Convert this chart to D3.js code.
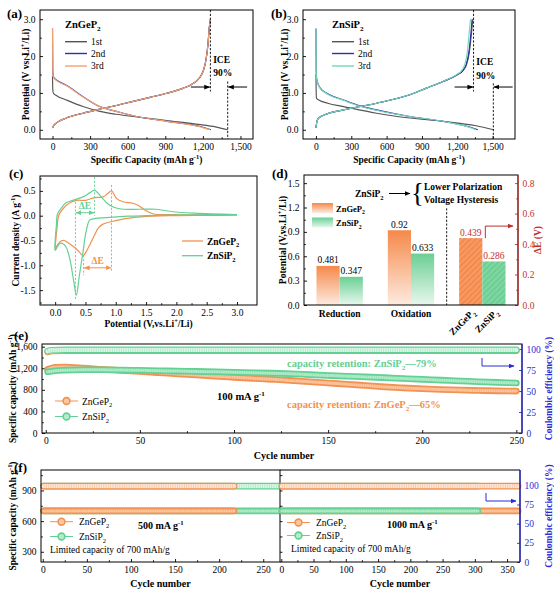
<!DOCTYPE html>
<html>
<head>
<meta charset="utf-8">
<script src="https://cdn.jsdelivr.net/npm/d3@7"></script>
<style>
  body { margin: 0; background: #fff; }
  svg { display: block; }
</style>
</head>
<body>
<svg width="554" height="591"></svg>
<script>
// ---------- data ----------
// (a) ZnGeP2 galvanostatic curves: capacity (mAh/g) vs potential (V)
const aDis1Cap = [0, 2, 6, 30, 110, 243, 377, 510, 644, 912, 1179, 1300, 1398];
const aDis1V = [1.45, 1.1, 1.0, 0.93, 0.81, 0.63, 0.5, 0.42, 0.36, 0.25, 0.14, 0.08, 0.0];
const aDis2Cap = [0, 2, 8, 40, 110, 243, 377, 510, 644, 912, 1179, 1265];
const aDis2V = [2.75, 1.6, 1.43, 1.33, 1.21, 0.9, 0.63, 0.5, 0.38, 0.23, 0.09, 0.0];
const aDis3Cap = [0, 2, 8, 40, 110, 243, 377, 510, 644, 912, 1179, 1258];
const aDis3V = [2.75, 1.58, 1.42, 1.32, 1.2, 0.89, 0.63, 0.5, 0.38, 0.23, 0.08, 0.0];
const aChCap = [0, 10, 29, 110, 243, 377, 510, 644, 778, 912, 1045, 1110, 1152, 1190, 1206, 1225, 1240, 1252, 1260];
const aChV = [0.05, 0.12, 0.18, 0.32, 0.45, 0.56, 0.66, 0.77, 0.88, 0.99, 1.13, 1.23, 1.33, 1.5, 1.63, 1.9, 2.3, 2.8, 3.0];

// (b) ZnSiP2 galvanostatic curves
const bDis1Cap = [0, 2, 5, 23, 100, 234, 515, 797, 1078, 1359, 1510];
const bDis1V = [1.5, 1.0, 0.85, 0.81, 0.72, 0.63, 0.45, 0.32, 0.23, 0.11, 0.0];
const bDis2Cap = [0, 2, 8, 37, 93, 234, 374, 515, 797, 1078, 1331, 1375];
const bDis2V = [2.75, 1.6, 1.35, 1.13, 0.99, 0.81, 0.65, 0.54, 0.36, 0.23, 0.05, 0.0];
const bDis3Cap = [0, 2, 8, 37, 93, 234, 374, 515, 797, 1078, 1320, 1360];
const bDis3V = [2.75, 1.58, 1.34, 1.12, 0.98, 0.8, 0.64, 0.53, 0.36, 0.23, 0.05, 0.0];
const bCh1Cap = [0, 8, 23, 93, 234, 515, 797, 938, 1078, 1200, 1252, 1278, 1302, 1320, 1332];
const bCh2Cap = [0, 8, 23, 93, 234, 515, 797, 938, 1078, 1198, 1250, 1274, 1298, 1315, 1326];
const bCh3Cap = [0, 8, 23, 93, 234, 515, 797, 938, 1078, 1191, 1240, 1262, 1285, 1300, 1312];
const bChV = [0.05, 0.22, 0.32, 0.43, 0.54, 0.72, 0.95, 1.13, 1.31, 1.49, 1.62, 1.76, 2.1, 2.6, 3.0];

// (c) cyclic voltammetry loops (cathodic 3.0 -> 0, then anodic 0 -> 3.0)
const cvGeV = [3.0, 2.5, 2.0, 1.6, 1.28, 1.0, 0.79, 0.71, 0.65, 0.57, 0.51, 0.47, 0.43, 0.4, 0.35, 0.29, 0.22, 0.15, 0.1, 0.05, 0.02, 0.0,
  0.01, 0.03, 0.06, 0.13, 0.24, 0.35, 0.51, 0.63, 0.79, 0.87, 0.93, 1.01, 1.12, 1.28, 1.38, 1.45, 1.61, 1.94, 2.5, 3.0];
const cvGeI = [0.01, 0.005, 0.0, -0.01, -0.04, -0.1, -0.17, -0.25, -0.39, -0.59, -0.73, -0.8, -0.78, -0.73, -0.67, -0.61, -0.55, -0.5, -0.51, -0.57, -0.63, -0.68,
  -0.5, -0.26, 0.01, 0.14, 0.26, 0.31, 0.31, 0.36, 0.38, 0.45, 0.5, 0.35, 0.28, 0.25, 0.2, 0.14, 0.04, 0.02, 0.015, 0.01];
const cvSiV = [3.0, 2.0, 1.5, 1.2, 0.84, 0.65, 0.57, 0.51, 0.46, 0.4, 0.35, 0.31, 0.29, 0.24, 0.18, 0.12, 0.08, 0.04, 0.0,
  0.02, 0.04, 0.1, 0.18, 0.29, 0.46, 0.57, 0.65, 0.76, 0.9, 1.06, 1.39, 1.67, 1.94, 2.3, 3.0];
const cvSiI = [0.02, 0.01, 0.0, -0.01, -0.04, -0.06, -0.09, -0.32, -0.73, -1.2, -1.6, -1.35, -1.2, -0.86, -0.63, -0.56, -0.56, -0.62, -0.7,
  -0.2, 0.04, 0.15, 0.26, 0.31, 0.38, 0.46, 0.51, 0.38, 0.21, 0.14, 0.13, 0.13, 0.08, 0.05, 0.02];

// (d) peak potentials and polarization
const dGroups = ["Reduction", "Oxidation", "ΔE"];
const dSeries = ["ZnGeP2", "ZnSiP2"];
const dGe = [0.481, 0.92];
const dSi = [0.347, 0.633];
const dDelta = [0.439, 0.286];

// (e) cycling at 100 mA/g
const eCyc = [1, 5, 10, 20, 30, 40, 50, 60, 70, 80, 90, 100, 110, 120, 130, 140, 150, 160, 170, 180, 190, 200, 210, 220, 230, 240, 250];
const eGeCap = [1180, 1220, 1222, 1205, 1180, 1160, 1140, 1118, 1096, 1074, 1052, 1032, 1013, 995, 975, 950, 926, 905, 880, 855, 836, 820, 807, 797, 788, 781, 777];
const eSiCap = [1135, 1155, 1165, 1172, 1172, 1168, 1162, 1155, 1148, 1142, 1134, 1126, 1118, 1110, 1098, 1082, 1066, 1052, 1040, 1026, 1010, 995, 980, 965, 950, 938, 926];
const eCeCyc = [1, 3, 10, 25, 50, 75, 100, 125, 150, 175, 200, 225, 250];
const eGeCE = [96.5, 97.6, 98, 98, 98, 98, 98, 98, 98, 98, 98, 98, 98];
const eSiCE = [97.5, 98.6, 99, 99, 99, 99, 99, 99, 99, 99, 99, 99, 99];

// (f) limited-capacity cycling (700 mAh/g)
const f5GeCyc = [1, 20, 40, 60, 80, 100, 120, 140, 160, 180, 200, 217];
const f5GeCap = [700, 700, 700, 700, 700, 700, 700, 700, 700, 700, 700, 700];
const f5GeCE = [99, 99, 99, 99, 99, 99, 99, 99, 99, 99, 99, 99];
const f5SiCyc = [1, 30, 60, 90, 120, 150, 180, 210, 240, 268];
const f5SiCap = [700, 700, 700, 700, 700, 700, 700, 700, 700, 700];
const f5SiCE = [99, 99, 99, 99, 99, 99, 99, 99, 99, 99];
const f10GeCyc = [1, 40, 80, 120, 160, 200, 240, 280, 320, 367];
const f10GeCap = [700, 700, 700, 700, 700, 700, 700, 700, 700, 700];
const f10GeCE = [99, 99, 99, 99, 99, 99, 99, 99, 99, 99];
const f10SiCyc = [1, 40, 80, 120, 160, 200, 240, 280, 305];
const f10SiCap = [700, 700, 700, 700, 700, 700, 700, 700, 700];
const f10SiCE = [99, 99, 99, 99, 99, 99, 99, 99, 99];

// ---------- style ----------
const FONT = "'Liberation Serif','Times New Roman',serif";
const cGray = "#555555", cBlue = "#2f2fb0", cOrA = "#f3a46b", cGrB = "#74d9b4";
const cOr = "#f39150", cOrIn = "#fbc7a2", cOrCE = "#fde6d6";
const cGr = "#63d094", cGrIn = "#b4ebcb", cGrCE = "#dcf5e6";
const cRed = "#c22f2a", cAx = "#2b2bd6";

const svg = d3.select("svg");
const defs = svg.append("defs");

// text with ^{sup} and _{sub} parts
const rich = (t, s, fs) => {
  let shift = 0;
  s.split(/(\^\{[^}]*\}|_\{[^}]*\})/).filter((p) => p).forEach((p) => {
    let target = 0, txt = p, small = false;
    if (p[0] === "^") { target = -0.4 * fs; txt = p.slice(2, -1); small = true; }
    else if (p[0] === "_") { target = 0.3 * fs; txt = p.slice(2, -1); small = true; }
    const sp = t.append("tspan").attr("dy", target - shift).text(txt);
    if (small) sp.attr("font-size", fs * 0.68);
    shift = target;
  });
};
const text = (x, y, s, o = {}) => {
  const fs = o.size || 9.5;
  const t = svg.append("text").attr("x", x).attr("y", y)
    .attr("font-family", FONT).attr("font-size", fs)
    .attr("font-weight", o.bold ? "bold" : "normal")
    .attr("fill", o.color || "#000")
    .attr("text-anchor", o.anchor || "start");
  if (o.rotate) t.attr("transform", `rotate(${o.rotate},${x},${y})`);
  rich(t, s, fs);
  return t;
};

const marker = (id, color) => defs.append("marker").attr("id", id)
  .attr("viewBox", "0 0 10 10").attr("refX", 9).attr("refY", 5)
  .attr("markerWidth", 6).attr("markerHeight", 6).attr("markerUnits", "userSpaceOnUse")
  .attr("orient", "auto-start-reverse")
  .append("path").attr("d", "M0,1 L10,5 L0,9 Z").attr("fill", color);
marker("ahK", "#000"); marker("ahR", cRed); marker("ahB", cAx); marker("ahO", cOr); marker("ahG", cGr);

const axis = (g, gen, tx, ty, color = "#000") => {
  const a = g.append("g").attr("transform", `translate(${tx},${ty})`).call(gen);
  a.select(".domain").remove();
  a.selectAll("text").attr("font-family", FONT).attr("font-size", 9.5).attr("fill", color);
  a.selectAll("line").attr("stroke", color).attr("stroke-width", 0.9);
  return a;
};
// inward major/minor ticks on bottom and left
const axes = (g, x, y, w, h, xMaj, xMin, yMaj, yMin, xFmt = null, yFmt = null) => {
  axis(g, d3.axisBottom(x).tickValues(xMaj).tickSize(-3).tickPadding(4.5).tickFormat(xFmt), 0, h);
  axis(g, d3.axisBottom(x).tickValues(xMin).tickSize(-1.8).tickFormat(""), 0, h);
  axis(g, d3.axisLeft(y).tickValues(yMaj).tickSize(-3).tickPadding(4.5).tickFormat(yFmt), 0, 0);
  axis(g, d3.axisLeft(y).tickValues(yMin).tickSize(-1.8).tickFormat(""), 0, 0);
};
const frame = (g, w, h) => g.append("rect").attr("width", w).attr("height", h)
  .attr("fill", "none").attr("stroke", "#000").attr("stroke-width", 1);

const curve = (g, x, y, xs, ys, color, cv = d3.curveMonotoneX, w = 1.15) =>
  g.append("path")
    .attr("d", d3.line().x((p) => x(p[0])).y((p) => y(p[1])).curve(cv)(d3.zip(xs, ys)))
    .attr("fill", "none").attr("stroke", color).attr("stroke-width", w);
const dash = (g, x1, y1, x2, y2, color = "#000") => g.append("line")
  .attr("x1", x1).attr("y1", y1).attr("x2", x2).attr("y2", y2)
  .attr("stroke", color).attr("stroke-width", 0.9).attr("stroke-dasharray", "2.2,1.6");
const arrow = (g, pts, color, mk, both = false) => {
  const p = g.append("path").attr("d", d3.line()(pts)).attr("fill", "none")
    .attr("stroke", color).attr("stroke-width", 1).attr("marker-end", `url(#${mk})`);
  if (both) p.attr("marker-start", `url(#${mk})`);
  return p;
};
// dense circle markers rendered as a band
const band = (g, x, y, xs, ys, color, inner, open) => {
  const d = d3.line().x((p) => x(p[0])).y((p) => y(p[1])).curve(d3.curveMonotoneX)(d3.zip(xs, ys));
  const w = open ? 4.4 : 3.0;
  g.append("path").attr("d", d).attr("fill", "none").attr("stroke", color).attr("stroke-width", 6.6).attr("stroke-linecap", "round");
  g.append("path").attr("d", d).attr("fill", "none").attr("stroke", inner).attr("stroke-width", w).attr("stroke-linecap", "round");
  g.append("path").attr("d", d).attr("fill", "none").attr("stroke", color).attr("stroke-opacity", 0.4)
    .attr("stroke-width", w).attr("stroke-dasharray", "0.7,1.6");
};
const legLine = (x1, x2, y, color, w = 1.2) => svg.append("line")
  .attr("x1", x1).attr("x2", x2).attr("y1", y).attr("y2", y).attr("stroke", color).attr("stroke-width", w);
const legDot = (x1, x2, y, color, inner) => {
  legLine(x1, x2, y, color, 1);
  svg.append("circle").attr("cx", (x1 + x2) / 2).attr("cy", y).attr("r", 3.4)
    .attr("fill", inner).attr("stroke", color).attr("stroke-width", 1.6);
};

// ---------- (a) ----------
const gA = svg.append("g").attr("transform", "translate(40,10)");
const xA = d3.scaleLinear().domain([-100, 1600]).range([0, 213]);
const yA = d3.scaleLinear().domain([-0.25, 3.25]).range([129, 0]);
axes(gA, xA, yA, 213, 129, [0, 300, 600, 900, 1200, 1500], [150, 450, 750, 1050, 1350], [0, 1, 2, 3], [0.5, 1.5, 2.5]);
curve(gA, xA, yA, aDis1Cap, aDis1V, cGray);
curve(gA, xA, yA, aChCap, aChV, cGray);
curve(gA, xA, yA, aDis2Cap, aDis2V, cBlue);
curve(gA, xA, yA, aChCap, aChV, cBlue);
curve(gA, xA, yA, aDis3Cap, aDis3V, cOrA);
curve(gA, xA, yA, aChCap, aChV, cOrA);
dash(gA, xA(1260), 0, xA(1260), yA(1.04));
dash(gA, xA(1398), yA(1.31), xA(1398), 129);
arrow(gA, [[xA(1104), yA(1.16)], [xA(1254), yA(1.16)]], "#000", "ahK");
arrow(gA, [[xA(1553), yA(1.16)], [xA(1404), yA(1.16)]], "#000", "ahK");
frame(gA, 213, 129);
text(40 + xA(1282), 10 + yA(1.92) + 3.5, "ICE", { bold: true });
text(40 + xA(1282), 10 + yA(1.56) + 3.5, "90%", { bold: true });
text(65, 27.5, "ZnGeP_{2}", { bold: true, size: 10.5 });
[["1st", cGray], ["2nd", cBlue], ["3rd", cOrA]].forEach(([n, c], i) => {
  const y = [41.7, 53.5, 66][i];
  legLine(65, 87, y, c, 1.4);
  text(91, y + 3.3, n);
});
text(28.5, 74.5, "Potential (V vs. Li^{+}/Li)", { bold: true, anchor: "middle", rotate: -90 });
text(146.5, 162.5, "Specific Capacity (mAh g^{-1})", { bold: true, anchor: "middle" });
text(7, 18, "(a)", { bold: true, size: 13 });

// ---------- (b) ----------
const gB = svg.append("g").attr("transform", "translate(303,10)");
const xB = d3.scaleLinear().domain([-110, 1690]).range([0, 212]);
const yB = d3.scaleLinear().domain([-0.25, 3.25]).range([129, 0]);
axes(gB, xB, yB, 212, 129, [0, 300, 600, 900, 1200, 1500], [150, 450, 750, 1050, 1350], [0, 1, 2, 3], [0.5, 1.5, 2.5]);
curve(gB, xB, yB, bDis1Cap, bDis1V, cGray);
curve(gB, xB, yB, bCh1Cap, bChV, cGray);
curve(gB, xB, yB, bDis2Cap, bDis2V, cBlue);
curve(gB, xB, yB, bCh2Cap, bChV, cBlue);
curve(gB, xB, yB, bDis3Cap, bDis3V, cGrB);
curve(gB, xB, yB, bCh3Cap, bChV, cGrB);
dash(gB, xB(1338), 0, xB(1338), yB(1.04));
dash(gB, xB(1506), yB(1.26), xB(1506), 129);
arrow(gB, [[xB(1177), yB(1.16)], [xB(1332), yB(1.16)]], "#000", "ahK");
arrow(gB, [[xB(1670), yB(1.16)], [xB(1512), yB(1.16)]], "#000", "ahK");
frame(gB, 212, 129);
text(303 + xB(1362), 10 + yB(1.85) + 3.5, "ICE", { bold: true });
text(303 + xB(1362), 10 + yB(1.48) + 3.5, "90%", { bold: true });
text(332, 27.5, "ZnSiP_{2}", { bold: true, size: 10.5 });
[["1st", cGray], ["2nd", cBlue], ["3rd", cGrB]].forEach(([n, c], i) => {
  const y = [41.7, 53.5, 66][i];
  legLine(332, 354, y, c, 1.4);
  text(358, y + 3.3, n);
});
text(287.5, 74.5, "Potential (V vs. Li^{+}/Li)", { bold: true, anchor: "middle", rotate: -90 });
text(409, 162.5, "Specific Capacity (mAh g^{-1})", { bold: true, anchor: "middle" });
text(271, 18, "(b)", { bold: true, size: 13 });

// ---------- (c) ----------
const gC = svg.append("g").attr("transform", "translate(40,176)");
const xC = d3.scaleLinear().domain([-0.25, 3.33]).range([0, 217]);
const yC = d3.scaleLinear().domain([-1.8, 0.8]).range([129, 0]);
const f1 = (d) => d.toFixed(1);
axes(gC, xC, yC, 217, 129, [0, 0.5, 1, 1.5, 2, 2.5, 3], [0.25, 0.75, 1.25, 1.75, 2.25, 2.75],
  [-1.5, -1, -0.5, 0, 0.5], [-1.75, -1.25, -0.75, -0.25, 0.25, 0.75], f1, f1);
curve(gC, xC, yC, cvGeV, cvGeI, cOr, d3.curveCatmullRom.alpha(0.5), 1.2);
curve(gC, xC, yC, cvSiV, cvSiI, cGr, d3.curveCatmullRom.alpha(0.5), 1.2);
dash(gC, xC(0.335), yC(0.28), xC(0.335), yC(-1.7), cGr);
dash(gC, xC(0.65), yC(0.78), xC(0.65), yC(0.0), cGr);
dash(gC, xC(0.93), yC(0.62), xC(0.93), yC(-1.12), cOr);
dash(gC, xC(0.47), yC(-0.8), xC(0.47), yC(-1.2), cOr);
arrow(gC, [[xC(0.345), yC(0.06)], [xC(0.64), yC(0.06)]], cGr, "ahG", true);
arrow(gC, [[xC(0.48), yC(-1.05)], [xC(0.92), yC(-1.05)]], cOr, "ahO", true);
frame(gC, 217, 129);
text(40 + xC(0.49), 176 + yC(0.2) + 3.5, "ΔE", { bold: true, color: cGr, anchor: "middle" });
text(40 + xC(0.7), 176 + yC(-0.9) + 3.5, "ΔE", { bold: true, color: cOr, anchor: "middle" });
legLine(182, 203, 241, cOr, 1.3);
legLine(182, 203, 255.7, cGr, 1.3);
text(207, 244.5, "ZnGeP_{2}", { bold: true });
text(207, 259.2, "ZnSiP_{2}", { bold: true });
text(18.5, 240.5, "Current density (A g^{-1})", { bold: true, anchor: "middle", rotate: -90 });
text(148.5, 326.5, "Potential (V,vs.Li^{+}/Li)", { bold: true, anchor: "middle" });
text(9, 178, "(c)", { bold: true, size: 13 });

// ---------- (d) ----------
const grad = (id, c1, c2) => {
  const lg = defs.append("linearGradient").attr("id", id).attr("x1", 0).attr("y1", 0).attr("x2", 0).attr("y2", 1);
  lg.append("stop").attr("offset", "0%").attr("stop-color", c1);
  lg.append("stop").attr("offset", "100%").attr("stop-color", c2);
};
grad("gradGe", "#f5894a", "#fdebe0");
grad("gradSi", "#6bcf94", "#e8f7ee");
const hatch = (id, c) => {
  const p = defs.append("pattern").attr("id", id).attr("width", 4).attr("height", 4)
    .attr("patternUnits", "userSpaceOnUse").attr("patternTransform", "rotate(45)");
  p.append("rect").attr("width", 4).attr("height", 4).attr("fill", c);
  p.append("line").attr("x1", 1).attr("y1", 0).attr("x2", 1).attr("y2", 4)
    .attr("stroke", "#fff").attr("stroke-opacity", 0.3).attr("stroke-width", 1);
};
hatch("hatGe", "#f5894a");
hatch("hatSi", "#6bcf94");

const dW = 214, dH = 130;
const gD = svg.append("g").attr("transform", "translate(304,175)");
const xD = d3.scaleBand().domain(dGroups).range([0, dW]).paddingInner(0.35).paddingOuter(0.175);
const xDs = d3.scaleBand().domain(dSeries).range([0, xD.bandwidth()]);
const yD = d3.scaleLinear().domain([0, 1.6]).range([dH, 0]);
const yDr = d3.scaleLinear().domain([0, 0.8533]).range([dH, 0]);

const dRows = [];
dGroups.slice(0, 2).forEach((grp, i) => {
  dRows.push({ grp, ser: dSeries[0], v: dGe[i] }, { grp, ser: dSeries[1], v: dSi[i] });
});
dSeries.forEach((ser, i) => dRows.push({ grp: dGroups[2], ser, v: dDelta[i], right: true }));

const barY = (d) => (d.right ? yDr : yD)(d.v);
gD.selectAll("rect.bar").data(dRows).join("rect").attr("class", "bar")
  .attr("x", (d) => xD(d.grp) + xDs(d.ser))
  .attr("y", barY)
  .attr("width", xDs.bandwidth())
  .attr("height", (d) => dH - barY(d))
  .attr("fill", (d) => (d.right ? (d.ser === "ZnGeP2" ? "url(#hatGe)" : "url(#hatSi)")
    : (d.ser === "ZnGeP2" ? "url(#gradGe)" : "url(#gradSi)")));
gD.selectAll("text.val").data(dRows).join("text").attr("class", "val")
  .attr("x", (d) => xD(d.grp) + xDs(d.ser) + xDs.bandwidth() / 2)
  .attr("y", (d) => barY(d) - 2.5)
  .attr("text-anchor", "middle").attr("font-family", FONT).attr("font-size", 9.5)
  .attr("fill", (d) => (d.right ? cRed : "#000"))
  .text((d) => String(d.v));

axis(gD, d3.axisLeft(yD).tickValues([0, 0.3, 0.6, 0.9, 1.2, 1.5]).tickSize(-3).tickPadding(4.5).tickFormat(f1), 0, 0);
axis(gD, d3.axisLeft(yD).tickValues([0.15, 0.45, 0.75, 1.05, 1.35]).tickSize(-1.8).tickFormat(""), 0, 0);
axis(gD, d3.axisRight(yDr).tickValues([0, 0.2, 0.4, 0.6, 0.8]).tickSize(-3).tickPadding(4.5).tickFormat(f1), dW, 0, cRed);
axis(gD, d3.axisRight(yDr).tickValues([0.1, 0.3, 0.5, 0.7]).tickSize(-1.8).tickFormat(""), dW, 0, cRed);
const xAxD = axis(gD, d3.axisBottom(xD).tickSize(0).tickPadding(5).tickFormat((d) => (d === "ΔE" ? "" : d)), 0, dH);
xAxD.selectAll("text").attr("font-weight", "bold");
frame(gD, dW, dH);
gD.append("line").attr("x1", dW).attr("x2", dW).attr("y1", 0).attr("y2", dH).attr("stroke", cRed).attr("stroke-width", 1.2);

const divX = (xD("Oxidation") + xD.bandwidth() + xD("ΔE")) / 2;
dash(gD, divX, yD(1.19), divX, dH);
const geRight = xD("ΔE") + xDs.bandwidth();
arrow(gD, [[geRight + 3, yDr(0.439)], [geRight + 3, yDr(0.518)], [dW - 5, yDr(0.518)]], cRed, "ahR");

dSeries.forEach((ser) => {
  const cx = 304 + xD("ΔE") + xDs(ser) + xDs.bandwidth() / 2 + 5;
  text(cx, 175 + dH + 8, ser.replace("P2", "P_{2}"), { bold: true, anchor: "end", rotate: -45 });
});

svg.append("rect").attr("x", 312).attr("y", 203).attr("width", 21).attr("height", 10).attr("fill", "url(#gradGe)");
svg.append("rect").attr("x", 312).attr("y", 217.5).attr("width", 21).attr("height", 10).attr("fill", "url(#gradSi)");
text(336, 211.5, "ZnGeP_{2}", { bold: true, size: 8.5 });
text(336, 226, "ZnSiP_{2}", { bold: true, size: 8.5 });

text(355, 197, "ZnSiP_{2}", { bold: true });
arrow(svg, [[389, 193.5], [410, 193.5]], "#000", "ahK");
text(411, 202, "{", { size: 27 });
text(424, 190, "Lower Polarization", { bold: true });
text(424, 203, "Voltage Hysteresis", { bold: true });

text(285.5, 240, "Potential (V,vs.Li^{+}/Li)", { bold: true, anchor: "middle", rotate: -90 });
text(540.5, 240, "ΔE (V)", { bold: true, anchor: "middle", rotate: -90, color: cRed });
text(272, 178, "(d)", { bold: true, size: 13 });

// ---------- (e) ----------
const eW = 480, eH = 89;
const gE = svg.append("g").attr("transform", "translate(42,344)");
const xE = d3.scaleLinear().domain([-2, 253]).range([0, eW]);
const yE = d3.scaleLinear().domain([0, 1650]).range([eH, 0]);
const yEr = d3.scaleLinear().domain([0, 106]).range([eH, 0]);
axes(gE, xE, yE, eW, eH, [0, 50, 100, 150, 200, 250], [25, 75, 125, 175, 225], [0, 400, 800, 1200, 1600], [200, 600, 1000, 1400]);
axis(gE, d3.axisRight(yEr).tickValues([0, 25, 50, 75, 100]).tickSize(-3).tickPadding(4.5), eW, 0, cAx);
band(gE, xE, yEr, eCeCyc, eGeCE, cOr, cOrCE, true);
band(gE, xE, yEr, eCeCyc, eSiCE, cGr, cGrCE, true);
band(gE, xE, yE, eCyc, eGeCap, cOr, cOrIn, false);
band(gE, xE, yE, eCyc, eSiCap, cGr, cGrIn, false);
frame(gE, eW, eH);
gE.append("line").attr("x1", eW).attr("x2", eW).attr("y1", 0).attr("y2", eH).attr("stroke", cAx).attr("stroke-width", 1.3);
arrow(svg, [[482, 358], [482, 366], [514, 366]], cAx, "ahB");
text(287, 367, "capacity retention: ZnSiP_{2}—79%", { bold: true, size: 10.5, color: cGr });
text(287, 408, "capacity retention: ZnGeP_{2}—65%", { bold: true, size: 10.5, color: cOr });
text(217, 400, "100 mA g^{-1}", { bold: true, size: 10.5 });
legDot(55, 78, 401, cOr, cOrIn);
legDot(55, 78, 416.5, cGr, cGrIn);
text(82, 404.5, "ZnGeP_{2}");
text(82, 420, "ZnSiP_{2}");
text(15.5, 388.5, "Specific capacity (mAh g^{-1})", { bold: true, anchor: "middle", rotate: -90 });
text(551.5, 388.5, "Coulombic efficiency (%)", { bold: true, anchor: "middle", rotate: -90, color: cAx });
text(284, 458.5, "Cycle number", { bold: true, size: 10, anchor: "middle" });
text(14, 340, "(e)", { bold: true, size: 13 });

// ---------- (f) ----------
const fH = 92, f1W = 239, f2W = 240;
const yF = d3.scaleLinear().domain([200, 1100]).range([fH, 0]);
const yFr = d3.scaleLinear().domain([0, 120]).range([fH, 0]);
const gF1 = svg.append("g").attr("transform", "translate(41,470)");
const xF1 = d3.scaleLinear().domain([-2, 269]).range([0, f1W]);
axes(gF1, xF1, yF, f1W, fH, [0, 50, 100, 150, 200, 250], [25, 75, 125, 175, 225], [300, 600, 900], [450, 750, 1050]);
band(gF1, xF1, yFr, f5SiCyc, f5SiCE, cGr, cGrCE, true);
band(gF1, xF1, yFr, f5GeCyc, f5GeCE, cOr, cOrCE, true);
band(gF1, xF1, yF, f5SiCyc, f5SiCap, cGr, cGrIn, false);
band(gF1, xF1, yF, f5GeCyc, f5GeCap, cOr, cOrIn, false);
frame(gF1, f1W, fH);

const gF2 = svg.append("g").attr("transform", "translate(280,470)");
const xF2 = d3.scaleLinear().domain([-2, 370]).range([0, f2W]);
axis(gF2, d3.axisBottom(xF2).tickValues([0, 50, 100, 150, 200, 250, 300, 350]).tickSize(-3).tickPadding(4.5), 0, fH);
axis(gF2, d3.axisBottom(xF2).tickValues([25, 75, 125, 175, 225, 275, 325]).tickSize(-1.8).tickFormat(""), 0, fH);
axis(gF2, d3.axisLeft(yF).tickValues([300, 450, 600, 750, 900, 1050]).tickSize(-2.5).tickFormat(""), 0, 0);
axis(gF2, d3.axisRight(yFr).tickValues([0, 25, 50, 75, 100]).tickSize(-3).tickPadding(4.5), f2W, 0, cAx);
band(gF2, xF2, yFr, f10SiCyc, f10SiCE, cGr, cGrCE, true);
band(gF2, xF2, yFr, f10GeCyc, f10GeCE, cOr, cOrCE, true);
band(gF2, xF2, yF, f10GeCyc, f10GeCap, cOr, cOrIn, false);
band(gF2, xF2, yF, f10SiCyc, f10SiCap, cGr, cGrIn, false);
gF2.append("path").attr("d", `M0,0H${f2W}V${fH}H0`).attr("fill", "none").attr("stroke", "#000").attr("stroke-width", 1);
gF2.append("line").attr("x1", f2W).attr("x2", f2W).attr("y1", 0).attr("y2", fH).attr("stroke", cAx).attr("stroke-width", 1.3);
arrow(svg, [[486, 493], [486, 501], [516, 501]], cAx, "ahB");

legDot(50, 73, 521.7, cOr, cOrIn);
legDot(50, 73, 536.5, cGr, cGrIn);
text(79, 525, "ZnGeP_{2}");
text(79, 540, "ZnSiP_{2}");
text(50, 552.5, "Limited capacity of 700 mAh/g");
text(138, 529, "500 mA g^{-1}", { bold: true, size: 10 });
legDot(287, 310, 522.5, cOr, cOrIn);
legDot(287, 310, 535.5, cGr, cGrIn);
text(316, 526, "ZnGeP_{2}");
text(316, 539, "ZnSiP_{2}");
text(291, 551.5, "Limited capacity of 700 mAh/g");
text(387, 528, "1000 mA g^{-1}", { bold: true, size: 10 });

text(15.5, 516, "Specific capacity (mAh g^{-1})", { bold: true, anchor: "middle", rotate: -90 });
text(551.5, 516, "Coulombic efficiency (%)", { bold: true, anchor: "middle", rotate: -90, color: cAx });
text(160.5, 586.5, "Cycle number", { bold: true, size: 10, anchor: "middle" });
text(400, 586.5, "Cycle number", { bold: true, size: 10, anchor: "middle" });
text(14, 472, "(f)", { bold: true, size: 13 });
</script>
</body>
</html>
